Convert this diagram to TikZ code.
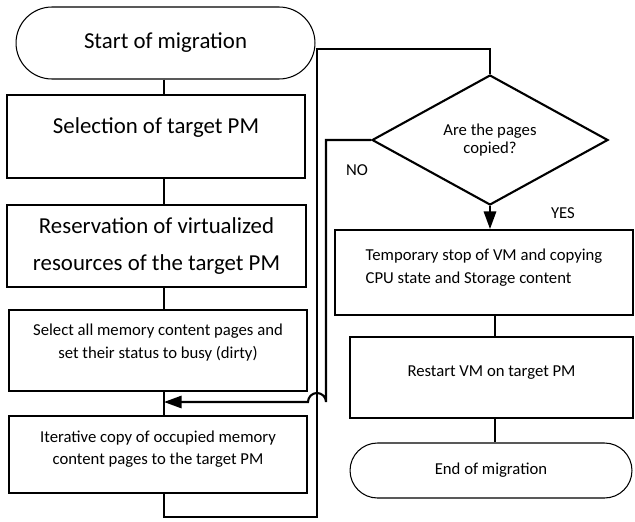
\documentclass[tikz,border=0pt]{standalone}
\usepackage{fontspec}
\setmainfont{Carlito}
\usetikzlibrary{shapes.geometric,arrows.meta}

\begin{document}
\begin{tikzpicture}[x=0.02cm, y=-0.02cm,
        box/.style={draw, line width=1.1pt, inner sep=0pt, align=center},
        term/.style={draw, line width=0.6pt, inner sep=0pt, align=center},
        big/.style={font=\fontsize{13}{21}\selectfont},
        small/.style={font=\fontsize{9.5}{13}\selectfont},
        link/.style={line width=1.2pt},
        arr/.style={link, -{Triangle[length=10pt,width=7pt]}}]
    \useasboundingbox (0,0) rectangle (635,521);
    \node[term, big, minimum width=5.98cm, minimum height=1.44cm, rounded corners=0.72cm] (start) at (165.5,43) {Start of migration};
    \node[box, big, minimum width=5.96cm, minimum height=1.66cm, text depth=0.42cm] (select) at (156,136.5) {Selection of target PM};
    \node[box, big, minimum width=5.98cm, minimum height=1.64cm] (reserve) at (156.5,246) {Reservation of virtualized\\resources of the target PM};
    \node[box, small, minimum width=5.96cm, minimum height=1.62cm, text depth=0.36cm] (busy) at (158,350.5) {Select all memory content pages and\\set their status to busy (dirty)};
    \node[box, small, minimum width=5.96cm, minimum height=1.54cm, text depth=0.27cm] (iter) at (158,454.5) {Iterative copy of occupied memory\\content pages to the target PM};
    \node[draw, diamond, line width=1.2pt, inner sep=0pt, aspect=1.8, minimum width=4.72cm, minimum height=2.6cm,
        align=center, font=\fontsize{9.5}{10.5}\selectfont] (decide) at (490,140) {Are the pages\\copied?};
    \node[box, small, align=left, minimum width=5.96cm, minimum height=1.7cm, text depth=0.24cm] (stop) at (484,272.5) {Temporary stop of VM and copying\\CPU state and Storage content};
    \node[box, small, minimum width=5.66cm, minimum height=1.62cm, text depth=0.26cm] (restart) at (491.5,377.5) {Restart VM on target PM};
    \node[term, small, minimum width=5.64cm, minimum height=1.1cm, rounded corners=0.55cm] (end) at (491,470.5) {End of migration};
    \node[small] (no) at (357,170) {NO};
    \node[small] (yes) at (563,213) {YES};

    \coordinate (spine) at (164,0);
    \coordinate (rspine) at (495,0);
    \coordinate (loop) at (317,517);
    \coordinate (ret) at (317,49);
    \coordinate (jump) at (326,402);

    \draw[link] (start.south -| spine) -- (select.north -| spine);
    \draw[link] (select.south -| spine) -- (reserve.north -| spine);
    \draw[link] (reserve.south -| spine) -- (busy.north -| spine);
    \draw[link] (busy.south -| spine) -- (iter.north -| spine);
    \draw[link] (iter.south -| spine) |- (loop) -- (ret) -| (decide.north);
    \draw[arr] (decide.south) -- (decide.south |- stop.north);
    \draw[arr] (decide.west) -| (jump) arc[start angle=0, end angle=180, radius=0.18cm] -- (spine |- jump);
    \draw[link] (stop.south -| rspine) -- (restart.north -| rspine);
    \draw[link] (restart.south -| rspine) -- (end.north -| rspine);
\end{tikzpicture}
\end{document}
